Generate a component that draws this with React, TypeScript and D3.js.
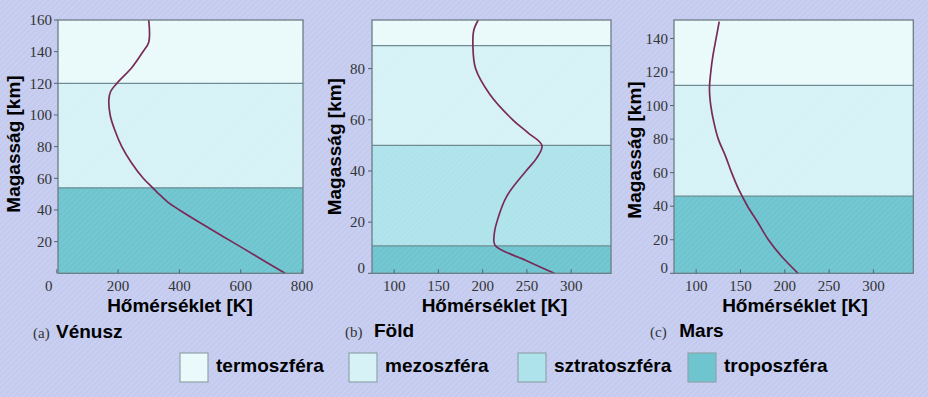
import React from "react";
import * as d3 from "d3";

// ---- data ----
const venusAlt = [0, 10, 20, 30, 40, 45, 48, 51, 54, 60, 70, 80, 90, 100, 110, 115, 120, 130, 140, 146, 160];
const venusTemp = [745, 658, 571, 484, 400, 362, 345, 328, 313, 282, 243, 212, 190, 174, 170, 176, 196, 245, 281, 300, 300];

const earthAlt = [0, 5, 11, 15, 20, 30, 40, 45, 50, 55, 60, 70, 80, 89, 95, 99];
const earthTemp = [281, 249, 214, 213, 216, 227, 249, 261, 267, 251, 234, 208, 192, 189, 190, 195];

const marsAlt = [0, 10, 20, 30, 40, 50, 60, 70, 80, 90, 100, 110, 120, 130, 140, 150];
const marsTemp = [215, 196.5, 181.5, 170, 158, 148, 140, 133, 125, 120, 116.5, 115, 116.5, 119, 122.5, 126];

const layerNames = ["termoszféra", "mezoszféra", "sztratoszféra", "troposzféra"];
const layerColors = ["#eafafb", "#d6f2f6", "#afe3ec", "#6fc5cf"];

// layer boundaries [bottom, top, layer index]
const venusLayers = [[120, 160, 0], [54, 120, 1], [0, 54, 3]];
const earthLayers = [[89, 99, 0], [50, 89, 1], [10.7, 50, 2], [0, 10.7, 3]];
const marsLayers = [[112, 151, 0], [46, 112, 1], [0, 46, 3]];

const venusXTicks = [0, 200, 400, 600, 800];
const venusYTicks = [20, 40, 60, 80, 100, 120, 140, 160];
const earthXTicks = [100, 150, 200, 250, 300];
const earthYTicks = [0, 20, 40, 60, 80];
const marsXTicks = [100, 150, 200, 250, 300];
const marsYTicks = [0, 20, 40, 60, 80, 100, 120, 140];

const panelTags = ["(a)", "(b)", "(c)"];
const planetNames = ["Vénusz", "Föld", "Mars"];
const xTitle = "Hőmérséklet [K]";
const yTitle = "Magasság [km]";

const SANS = "Liberation Sans, Arial, sans-serif";
const SERIF = "Liberation Serif, Times New Roman, DejaVu Serif, serif";

type PanelCfg = {
  alt: number[];
  temp: number[];
  layers: number[][];
  xDomain: [number, number];
  xRange: [number, number];
  yDomain: [number, number];
  left: number;
  right: number;
  xTicks: number[];
  yTicks: number[];
  yTitleX: number;
  yTitleY: number;
  xTitleX: number;
  tagX: number;
  nameX: number;
  tagY: number;
  tickPad: number;
  idx: number;
};

const TOP = 20;
const BOTTOM = 273.3;

const panels: PanelCfg[] = [
  {
    alt: venusAlt, temp: venusTemp, layers: venusLayers,
    xDomain: [0, 800], xRange: [56.8, 302], yDomain: [0, 160],
    left: 58, right: 303, xTicks: venusXTicks, yTicks: venusYTicks,
    yTitleX: 20, yTitleY: 144, xTitleX: 180, tagX: 33, nameX: 56, tagY: 338, tickPad: 2, idx: 0,
  },
  {
    alt: earthAlt, temp: earthTemp, layers: earthLayers,
    xDomain: [75, 345], xRange: [372, 611], yDomain: [0, 99],
    left: 372, right: 611, xTicks: earthXTicks, yTicks: earthYTicks,
    yTitleX: 340.5, yTitleY: 146.7, xTitleX: 494.5, tagX: 345, nameX: 374, tagY: 337, tickPad: 3, idx: 1,
  },
  {
    alt: marsAlt, temp: marsTemp, layers: marsLayers,
    xDomain: [75, 345], xRange: [674, 913.3], yDomain: [0, 151],
    left: 674, right: 913.3, xTicks: marsXTicks, yTicks: marsYTicks,
    yTitleX: 640.5, yTitleY: 150, xTitleX: 795, tagX: 650, nameX: 679.3, tagY: 337, tickPad: 2, idx: 2,
  },
];

const serifStyle = { fontFamily: SERIF };
const sansStyle = { fontFamily: SANS, fontWeight: 700 as const };

function Panel({ p }: { p: PanelCfg }) {
  const x = d3.scaleLinear().domain(p.xDomain).range(p.xRange);
  const y = d3.scaleLinear().domain(p.yDomain).range([BOTTOM, TOP]);
  const pts: [number, number][] = p.alt.map((a, i) => [p.temp[i], a]);
  const line = d3
    .line<[number, number]>()
    .x((d) => x(d[0]))
    .y((d) => y(d[1]))
    .curve(d3.curveCatmullRom.alpha(0.5));
  const w = p.right - p.left;
  return (
    <g>
      {p.layers.map(([lo, hi, k], i) => (
        <rect key={i} x={p.left} y={y(hi)} width={w} height={y(lo) - y(hi)} fill={layerColors[k]} />
      ))}
      <rect x={p.left} y={TOP} width={w} height={BOTTOM - TOP} fill="url(#hatchPlot)" />
      {p.layers.slice(0, -1).map(([lo], i) => (
        <line key={i} x1={p.left} x2={p.right} y1={y(lo)} y2={y(lo)} stroke="#6e8c92" strokeWidth={1.2} />
      ))}
      <path d={line(pts) || ""} fill="none" stroke="#7a2a58" strokeWidth={1.7} />
      <rect x={p.left} y={TOP} width={w} height={BOTTOM - TOP} fill="none" stroke="#6b7d85" strokeWidth={1.3} />
      {p.yTicks.map((t) => (
        <g key={t}>
          <line x1={p.left - 4} x2={p.left} y1={y(t)} y2={y(t)} stroke="#55656c" strokeWidth={1} />
          <text
            x={p.left - 4 - p.tickPad}
            y={t === 0 ? y(t) - 6 : y(t)}
            dy="0.35em"
            textAnchor="end"
            style={serifStyle}
            fontSize={15}
            fill="#333"
          >
            {t}
          </text>
        </g>
      ))}
      {p.xTicks.map((t) => (
        <g key={t}>
          <line x1={x(t)} x2={x(t)} y1={BOTTOM} y2={BOTTOM - 4} stroke="#55656c" strokeWidth={1} />
          <text
            x={p.idx === 0 && t === 0 ? x(t) - 8 : x(t)}
            y={290.5}
            textAnchor="middle"
            style={serifStyle}
            fontSize={15}
            fill="#333"
          >
            {t}
          </text>
        </g>
      ))}
      <text x={p.xTitleX} y={311.5} textAnchor="middle" style={sansStyle} fontSize={19} fill="#000">
        {xTitle}
      </text>
      <text
        transform={`translate(${p.yTitleX},${p.yTitleY}) rotate(-90)`}
        textAnchor="middle"
        style={sansStyle}
        fontSize={19}
        fill="#000"
      >
        {yTitle}
      </text>
      <text x={p.tagX} y={p.tagY} style={serifStyle} fontSize={15} fill="#333">
        {panelTags[p.idx]}
      </text>
      <text x={p.nameX} y={p.tagY} style={sansStyle} fontSize={19} fill="#000">
        {planetNames[p.idx]}
      </text>
    </g>
  );
}

const legendBoxX = [180, 349, 518, 688];

export default function App() {
  return (
    <svg
      width={928}
      height={397}
      style={{ position: "absolute", left: 0, top: 0, display: "block" }}
      xmlns="http://www.w3.org/2000/svg"
    >
      <defs>
        <pattern id="hatchBg" width="4" height="4" patternUnits="userSpaceOnUse" patternTransform="rotate(45)">
          <line x1="0" y1="0" x2="0" y2="4" stroke="#ffffff" strokeOpacity="0.18" strokeWidth="1.5" />
        </pattern>
        <pattern id="hatchPlot" width="4" height="4" patternUnits="userSpaceOnUse" patternTransform="rotate(45)">
          <line x1="0" y1="0" x2="0" y2="4" stroke="#ffffff" strokeOpacity="0.12" strokeWidth="1.2" />
        </pattern>
      </defs>
      <rect x={0} y={0} width={928} height={397} fill="#c4cbef" />
      <rect x={0} y={0} width={928} height={397} fill="url(#hatchBg)" />
      {panels.map((p) => (
        <Panel key={p.idx} p={p} />
      ))}
      {layerNames.map((name, i) => (
        <g key={name}>
          <rect
            x={legendBoxX[i]}
            y={353}
            width={28}
            height={29}
            fill={layerColors[i]}
            stroke="#8fa3aa"
            strokeWidth={1.2}
          />
          <text x={legendBoxX[i] + 36} y={372} style={sansStyle} fontSize={19} fill="#000">
            {name}
          </text>
        </g>
      ))}
    </svg>
  );
}
